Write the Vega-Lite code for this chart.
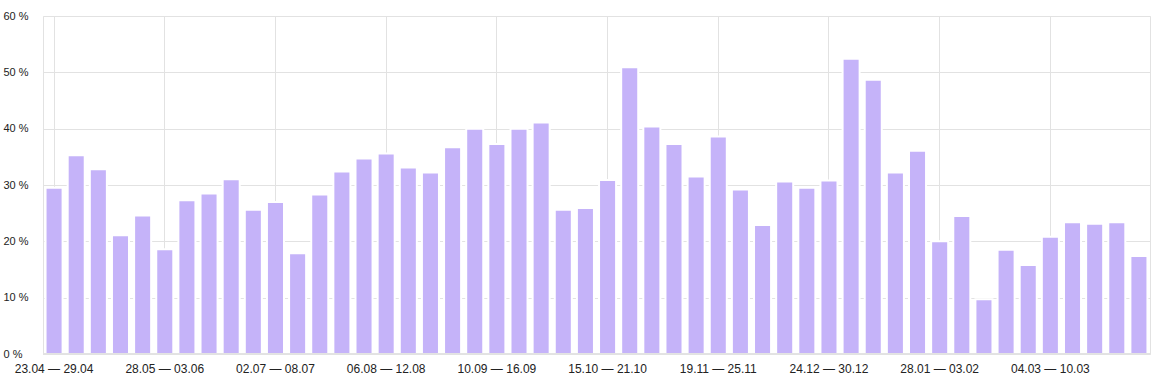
{
  "$schema": "https://vega.github.io/schema/vega-lite/v6.json",
  "width": 1107,
  "height": 338,
  "autosize": {"type": "none"},
  "padding": {"left": 43, "top": 16, "right": 9, "bottom": 23},
  "background": "white",
  "config": {
    "view": {"stroke": "#e2e2e2", "strokeWidth": 1},
    "font": "Liberation Sans"
  },
  "data": {
    "values": [
      {"week": "23.04 — 29.04", "share": 29.5},
      {"week": "30.04 — 06.05", "share": 35.3},
      {"week": "07.05 — 13.05", "share": 32.8},
      {"week": "14.05 — 20.05", "share": 21.1},
      {"week": "21.05 — 27.05", "share": 24.6},
      {"week": "28.05 — 03.06", "share": 18.6},
      {"week": "04.06 — 10.06", "share": 27.3},
      {"week": "11.06 — 17.06", "share": 28.5},
      {"week": "18.06 — 24.06", "share": 31.0},
      {"week": "25.06 — 01.07", "share": 25.6},
      {"week": "02.07 — 08.07", "share": 27.0},
      {"week": "09.07 — 15.07", "share": 17.9},
      {"week": "16.07 — 22.07", "share": 28.3},
      {"week": "23.07 — 29.07", "share": 32.4},
      {"week": "30.07 — 05.08", "share": 34.7},
      {"week": "06.08 — 12.08", "share": 35.6},
      {"week": "13.08 — 19.08", "share": 33.1},
      {"week": "20.08 — 26.08", "share": 32.2},
      {"week": "27.08 — 02.09", "share": 36.7},
      {"week": "03.09 — 09.09", "share": 40.0},
      {"week": "10.09 — 16.09", "share": 37.3},
      {"week": "17.09 — 23.09", "share": 40.0},
      {"week": "24.09 — 30.09", "share": 41.1},
      {"week": "01.10 — 07.10", "share": 25.6},
      {"week": "08.10 — 14.10", "share": 25.9},
      {"week": "15.10 — 21.10", "share": 30.9},
      {"week": "22.10 — 28.10", "share": 50.9},
      {"week": "29.10 — 04.11", "share": 40.4},
      {"week": "05.11 — 11.11", "share": 37.3},
      {"week": "12.11 — 18.11", "share": 31.5},
      {"week": "19.11 — 25.11", "share": 38.6},
      {"week": "26.11 — 02.12", "share": 29.2},
      {"week": "03.12 — 09.12", "share": 22.9},
      {"week": "10.12 — 16.12", "share": 30.6},
      {"week": "17.12 — 23.12", "share": 29.5},
      {"week": "24.12 — 30.12", "share": 30.8},
      {"week": "31.12 — 06.01", "share": 52.4},
      {"week": "07.01 — 13.01", "share": 48.7},
      {"week": "14.01 — 20.01", "share": 32.2},
      {"week": "21.01 — 27.01", "share": 36.1},
      {"week": "28.01 — 03.02", "share": 20.0},
      {"week": "04.02 — 10.02", "share": 24.5},
      {"week": "11.02 — 17.02", "share": 9.7},
      {"week": "18.02 — 24.02", "share": 18.5},
      {"week": "25.02 — 03.03", "share": 15.8},
      {"week": "04.03 — 10.03", "share": 20.8},
      {"week": "11.03 — 17.03", "share": 23.4},
      {"week": "18.03 — 24.03", "share": 23.1},
      {"week": "25.03 — 31.03", "share": 23.4},
      {"week": "01.04 — 07.04", "share": 17.4}
    ]
  },
  "layer": [
    {
      "mark": {"type": "bar", "color": "#c5b3f9", "stroke": "white", "strokeWidth": 2},
      "encoding": {
        "x": {
          "field": "week",
          "type": "ordinal",
          "sort": null,
          "scale": {"paddingInner": 0.23, "paddingOuter": 0.115},
          "axis": {
            "title": null,
            "values": ["23.04 — 29.04", "28.05 — 03.06", "02.07 — 08.07", "06.08 — 12.08", "10.09 — 16.09", "15.10 — 21.10", "19.11 — 25.11", "24.12 — 30.12", "28.01 — 03.02", "04.03 — 10.03"],
            "labelAngle": 0,
            "grid": true,
            "gridColor": "#e2e2e2",
            "bandPosition": 0.5,
            "ticks": false,
            "domain": false,
            "labelPadding": 9,
            "labelFontSize": 12,
            "labelColor": "#222222",
            "labelFont": "Liberation Sans"
          }
        },
        "y": {
          "field": "share",
          "type": "quantitative",
          "scale": {"domain": [0, 60], "nice": false},
          "axis": {
            "title": null,
            "values": [0, 10, 20, 30, 40, 50, 60],
            "labelExpr": "datum.value + ' %'",
            "grid": true,
            "gridColor": "#e2e2e2",
            "ticks": false,
            "tickSize": 0,
            "domain": false,
            "labelAlign": "left",
            "labelBaseline": "middle",
            "labelPadding": 40,
            "labelFontSize": 11,
            "labelColor": "#222222",
            "labelFont": "Liberation Sans"
          }
        }
      }
    },
    {
      "mark": {"type": "rule", "color": "#e2e2e2", "strokeWidth": 1},
      "encoding": {"y": {"datum": 0}}
    }
  ]
}
